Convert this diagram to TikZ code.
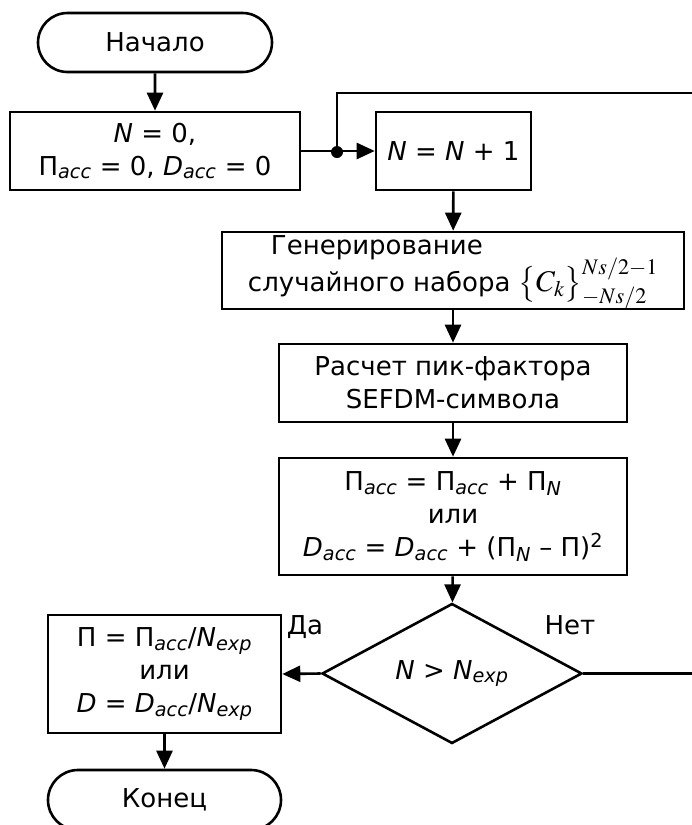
\documentclass[tikz,border=0pt]{standalone}
\usepackage{mathptmx}
\usepackage{fontspec}
\setmainfont{DejaVu Sans}
\usetikzlibrary{arrows.meta,shapes.geometric,shapes.misc}
\newcommand{\Pacc}{П\textsubscript{\textit{acc}}}
\newcommand{\Dacc}{\textit{D}\textsubscript{\textit{acc}}}
\newcommand{\Nexp}{\textit{N}\textsubscript{\textit{exp}}}

\begin{document}
\begin{tikzpicture}[x=1pt, y=-1pt,
    every node/.style={font=\fontsize{26}{33}\selectfont},
    blk/.style={draw, line width=2.6pt, rectangle, inner sep=0pt, align=center},
    term/.style={draw, line width=2.6pt, rounded rectangle, inner sep=0pt},
    cond/.style={draw, line width=2.6pt, diamond, inner sep=0pt},
    flow/.style={line width=2.6pt, -{Triangle[length=18pt, width=16pt]}},
    link/.style={line width=2.6pt}]
    \useasboundingbox (0,0) rectangle (692,825);
    \clip (0,0) rectangle (692,825);

    % Start and initialisation
    \node[term, minimum width=234pt, minimum height=59pt] (start) at (155,42.5) {Начало};
    \node[blk, minimum width=290pt, minimum height=78pt] (init) at (155,151)
        {\textit{N} = 0,\\ \Pacc{} = 0, \Dacc{} = 0};
    \node[blk, minimum width=155pt, minimum height=78pt] (inc) at (453.5,151)
        {\textit{N} = \textit{N} + 1};
    \coordinate (junc) at (337,152);

    % Main column
    \node[blk, minimum width=462pt, minimum height=77pt, align=left] (gen) at (453,270.5)
        {\hspace*{23pt}Генерирование\\[4pt]
         случайного набора \smash{\fontsize{30}{34}\selectfont$\bigl\{C_k\bigr\}_{-Ns/2}^{Ns/2-1}$}\rule[-14pt]{0pt}{14pt}};
    \node[blk, minimum width=348pt, minimum height=78pt] (peak) at (453,383)
        {Расчет пик-фактора\\ SEFDM-символа};
    \node[blk, minimum width=348pt, minimum height=117pt] (acc) at (453,516.5)
        {\Pacc{} = \Pacc{} + П\textsubscript{\textit{N}}\\ или\\
         \Dacc{} = \Dacc{} + (П\textsubscript{\textit{N}} -- П)\textsuperscript{2}};
    \node[cond, minimum width=260pt, minimum height=117pt] (check) at (452,673.5)
        {\textit{N} > \Nexp};
    \node at (305,627) (yes) {Да};
    \node at (570,625) (no) {Нет};

    % Result and end
    \node[blk, minimum width=233pt, minimum height=118pt] (res) at (164.5,674)
        {П = \Pacc/\Nexp\\ или\\ \textit{D} = \Dacc/\Nexp};
    \node[term, minimum width=233pt, minimum height=60pt] (stop) at (164.5,800) {Конец};

    % Connectors
    \draw[flow] (start) -- (init);
    \draw[flow] (init) -- (inc);
    \fill (junc) circle (6pt);
    \draw[flow] (inc) -- (gen);
    \draw[flow] (gen) -- (peak);
    \draw[flow] (peak) -- (acc);
    \draw[flow] (acc) -- (check);
    \draw[flow] (check.west) -- (res.east);
    \draw[flow] (res) -- (stop);
    \draw[link] (check.east) -- (700,673.5) -- (700,93) -| (junc);
\end{tikzpicture}
\end{document}
